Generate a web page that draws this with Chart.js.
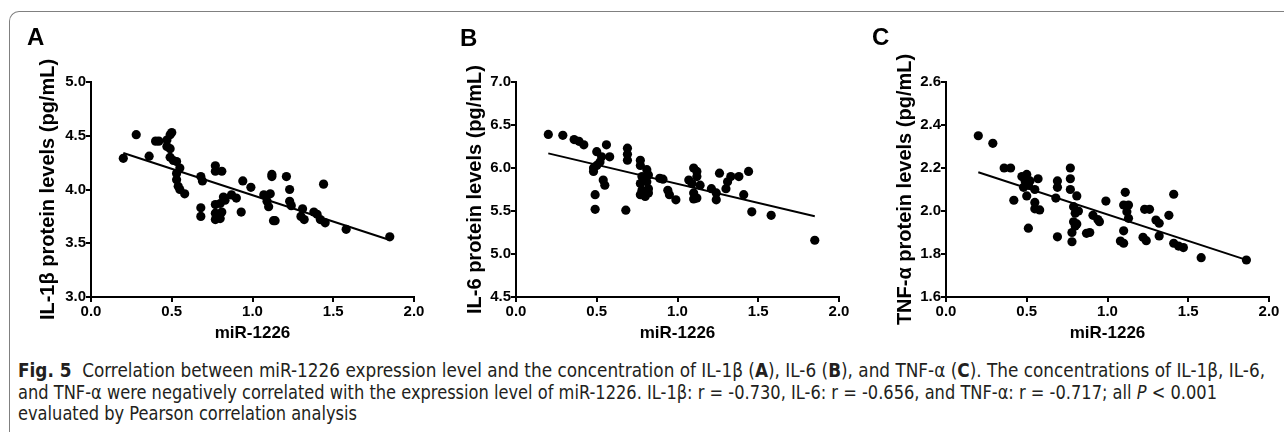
<!DOCTYPE html>
<html>
<head>
<meta charset="utf-8">
<script src="https://cdn.jsdelivr.net/npm/chart.js@4.4.1/dist/chart.umd.min.js"></script>
<style>
  body { margin: 0; background: #fff; width: 1284px; height: 432px; overflow: hidden; position: relative; }
  .frame { position: absolute; left: 9px; top: 11px; width: 1290px; height: 440px;
           border-top: 1px solid #808080; border-left: 1px solid #808080; border-top-left-radius: 10px; }
  canvas { position: absolute; top: 0; }
  .letter { position: absolute; font: bold 24px "Liberation Sans", Arial, sans-serif; line-height: 24px; color: #000; }
  .caption { position: absolute; left: 18px; top: 360px; color: #231f20;
             font-family: "Liberation Sans Narrow", "DejaVu Sans Condensed", "Noto Sans", sans-serif; font-size: 20px; }
  .caption div { height: 21.5px; line-height: 21.5px; white-space: nowrap; }
  .caption span { display: inline-block; transform-origin: 0 50%; }
</style>
</head>
<body>
<div class="frame"></div>

<canvas id="chartA" width="430" height="350" style="left:0px"></canvas>
<canvas id="chartB" width="430" height="350" style="left:430px"></canvas>
<canvas id="chartC" width="424" height="350" style="left:860px"></canvas>

<div class="letter" style="left:27px;top:25px">A</div>
<div class="letter" style="left:460px;top:26px">B</div>
<div class="letter" style="left:872px;top:25px">C</div>

<div class="caption">
  <div><span id="cap1"><b>Fig. 5</b>&nbsp; Correlation between miR-1226 expression level and the concentration of IL-1β (<b>A</b>), IL-6 (<b>B</b>), and TNF-α (<b>C</b>). The concentrations of IL-1β, IL-6,</span></div>
  <div><span id="cap2">and TNF-α were negatively correlated with the expression level of miR-1226. IL-1β: r = -0.730, IL-6: r = -0.656, and TNF-α: r = -0.717; all <i>P</i> &lt; 0.001</span></div>
  <div><span id="cap3">evaluated by Pearson correlation analysis</span></div>
</div>

<script>
// axis ranges
const xRange = [0, 2, 0.5];
const yRangeA = [3, 5, 0.5];
const yRangeB = [4.5, 7, 0.5];
const yRangeC = [1.6, 2.6, 0.2];

// panel A: IL-1beta vs miR-1226
const xA = [0.20, 0.28, 0.36, 0.40, 0.42, 0.47, 0.47, 0.49, 0.49, 0.50, 0.49, 0.51, 0.53, 0.55, 0.53, 0.53,
  0.54, 0.55, 0.58, 0.68, 0.69, 0.68, 0.68, 0.77, 0.77, 0.81, 0.77, 0.77, 0.77, 0.80, 0.81, 0.80,
  0.82, 0.83, 0.87, 0.90, 0.93, 0.94, 0.99, 1.07, 1.11, 1.09, 1.10, 1.12, 1.12, 1.13, 1.14, 1.21,
  1.23, 1.23, 1.24, 1.31, 1.30, 1.32, 1.38, 1.40, 1.42, 1.44, 1.45, 1.58, 1.85];
const yA = [4.29, 4.51, 4.31, 4.45, 4.45, 4.46, 4.40, 4.38, 4.51, 4.53, 4.30, 4.27, 4.26, 4.20, 4.15, 4.09,
  4.03, 4.00, 3.96, 4.12, 4.08, 3.83, 3.75, 4.22, 4.17, 4.17, 3.86, 3.78, 3.72, 3.87, 3.79, 3.73,
  3.93, 3.90, 3.95, 3.92, 3.79, 4.08, 4.02, 3.95, 3.96, 3.89, 3.84, 4.12, 4.14, 3.71, 3.71, 4.12,
  4.00, 3.89, 3.85, 3.82, 3.75, 3.72, 3.79, 3.77, 3.72, 4.05, 3.69, 3.63, 3.56];

// panel B: IL-6 vs miR-1226
const xB = [0.20, 0.29, 0.36, 0.39, 0.42, 0.50, 0.56, 0.58, 0.53, 0.52, 0.50, 0.48, 0.48, 0.54, 0.55, 0.49,
  0.49, 0.68, 0.69, 0.69, 0.69, 0.77, 0.77, 0.81, 0.82, 0.78, 0.77, 0.78, 0.77, 0.81, 0.82, 0.82,
  0.80, 0.89, 0.91, 0.94, 0.95, 0.99, 1.10, 1.12, 1.12, 1.07, 1.09, 1.14, 1.10, 1.10, 1.12, 1.26,
  1.21, 1.24, 1.24, 1.30, 1.31, 1.33, 1.38, 1.44, 1.41, 1.46, 1.58, 1.85];
const yB = [6.39, 6.38, 6.33, 6.31, 6.27, 6.19, 6.27, 6.13, 6.13, 6.07, 6.03, 6.00, 5.96, 5.86, 5.80, 5.69,
  5.52, 5.51, 6.23, 6.16, 6.09, 6.09, 6.03, 5.98, 5.92, 5.90, 5.82, 5.74, 5.69, 5.84, 5.76, 5.71,
  5.67, 5.88, 5.87, 5.74, 5.69, 5.63, 6.00, 5.96, 5.90, 5.86, 5.82, 5.80, 5.71, 5.64, 5.65, 5.94,
  5.76, 5.71, 5.63, 5.76, 5.84, 5.90, 5.90, 5.96, 5.69, 5.49, 5.45, 5.16];

// panel C: TNF-alpha vs miR-1226
const xC = [0.20, 0.29, 0.36, 0.40, 0.42, 0.47, 0.50, 0.49, 0.48, 0.51, 0.52, 0.50, 0.55, 0.57, 0.51, 0.55,
  0.55, 0.58, 0.69, 0.69, 0.68, 0.69, 0.77, 0.77, 0.77, 0.81, 0.79, 0.80, 0.82, 0.79, 0.80, 0.78,
  0.78, 0.81, 0.87, 0.89, 0.91, 0.94, 0.95, 0.99, 1.11, 1.10, 1.13, 1.12, 1.13, 1.10, 1.08, 1.10,
  1.23, 1.26, 1.30, 1.32, 1.32, 1.38, 1.41, 1.22, 1.24, 1.41, 1.44, 1.47, 1.58, 1.86];
const yC = [2.35, 2.315, 2.20, 2.20, 2.05, 2.16, 2.17, 2.14, 2.11, 2.12, 2.14, 2.07, 2.10, 2.15, 1.92, 2.04,
  2.01, 2.005, 2.14, 2.11, 2.06, 1.88, 2.20, 2.15, 2.10, 2.07, 2.02, 1.99, 2.00, 1.95, 1.93, 1.90,
  1.857, 1.94, 1.896, 1.90, 1.98, 1.96, 1.95, 2.046, 2.087, 2.028, 2.028, 1.997, 1.966, 1.908, 1.86, 1.85,
  2.008, 2.008, 1.958, 1.943, 1.884, 1.98, 2.078, 1.878, 1.862, 1.85, 1.837, 1.83, 1.783, 1.772];

// fitted lines, read at the ends of the x range
const fitX = [0.20, 1.85];
const fitA = [4.34, 3.53];
const fitB = [6.17, 5.44];
const fitC = [2.18, 1.775];

const FONT = '"Liberation Sans", Arial, sans-serif';

function toPoints(xs, ys) {
  return xs.map((x, i) => ({ x: x, y: ys[i] }));
}

function makePanel(id, xs, ys, fit, yRange, yTitle, yWidth, padRight, titlePad) {
  const ctx = document.getElementById(id).getContext("2d");
  const axisLine = { display: true, color: "#000", width: 2 };
  const tickGrid = { display: true, drawOnChartArea: false, drawTicks: true, tickLength: 5, color: "#000", lineWidth: 2 };

  return new Chart(ctx, {
    type: "scatter",
    data: {
      datasets: [
        {
          data: toPoints(xs, ys),
          pointRadius: 4.6,
          pointHoverRadius: 4.6,
          backgroundColor: "#000",
          borderWidth: 0
        },
        {
          type: "line",
          data: toPoints(fitX, fit),
          borderColor: "#000",
          borderWidth: 2,
          pointRadius: 0,
          fill: false
        }
      ]
    },
    options: {
      responsive: false,
      animation: false,
      devicePixelRatio: 1,
      layout: { padding: { left: 0, right: padRight, top: 82, bottom: 0 } },
      plugins: { legend: { display: false }, tooltip: { enabled: false } },
      scales: {
        x: {
          type: "linear",
          min: xRange[0],
          max: xRange[1],
          border: axisLine,
          grid: tickGrid,
          ticks: {
            stepSize: xRange[2],
            color: "#000",
            padding: 1,
            maxRotation: 0,
            font: { family: FONT, size: 15, weight: "bold" },
            callback: v => v.toFixed(1)
          },
          title: {
            display: true,
            text: "miR-1226",
            color: "#000",
            padding: { top: 0, bottom: 6 },
            font: { family: FONT, size: 17, weight: "bold" }
          },
          afterFit: s => { s.height = 53; }
        },
        y: {
          type: "linear",
          min: yRange[0],
          max: yRange[1],
          border: axisLine,
          grid: tickGrid,
          ticks: {
            stepSize: yRange[2],
            color: "#000",
            padding: 0,
            font: { family: FONT, size: 15, weight: "bold" },
            callback: v => v.toFixed(1)
          },
          title: {
            display: true,
            text: yTitle,
            color: "#000",
            padding: { top: titlePad, bottom: 0 },
            font: { family: FONT, size: 20, weight: "bold" }
          },
          afterFit: s => { s.width = yWidth; }
        }
      }
    }
  });
}

makePanel("chartA", xA, yA, fitA, yRangeA, "IL-1β protein levels (pg/mL)", 91, 16, 36);
makePanel("chartB", xB, yB, fitB, yRangeB, "IL-6 protein levels (pg/mL)", 86, 21, 33);
makePanel("chartC", xC, yC, fitC, yRangeC, "TNF-α protein levels (pg/mL)", 86, 15, 33);

// squeeze the caption lines to the widths in the figure
function fitLine(id, width) {
  const el = document.getElementById(id);
  const w = el.getBoundingClientRect().width;
  const k = width / w;
  el.style.transform = "scaleX(" + k + ")";
  return k;
}
fitLine("cap1", 1247);
const k2 = fitLine("cap2", 1199);
document.getElementById("cap3").style.transform = "scaleX(" + k2 + ")";
</script>
</body>
</html>
